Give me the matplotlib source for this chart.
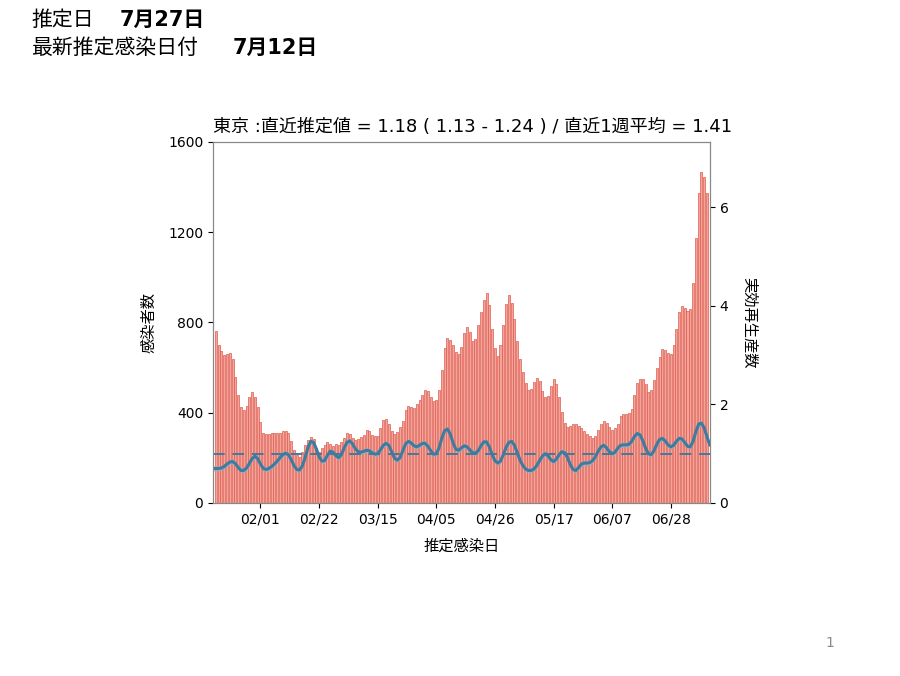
import numpy as np
import pandas as pd
from matplotlib import pyplot as plt
import matplotlib.dates as mdates

plt.rcParams['font.family'] = ['DejaVu Sans', 'Noto Sans CJK JP']

###################
# Data            #
###################
# Daily infections by estimated infection date (2021-01-16 .. 2021-07-11)
bar_start = '2021-01-16'
infections = [
    764, 700, 675, 656, 660, 665, 637, 560, 479, 424,
    412, 430, 471, 493, 468, 427, 360, 309, 304, 304,
    309, 309, 309, 312, 320, 320, 309, 276, 235, 213,
    205, 228, 257, 279, 294, 282, 242, 228, 245, 258,
    268, 262, 252, 262, 258, 272, 290, 310, 305, 288,
    280, 282, 292, 300, 322, 318, 300, 296, 298, 330,
    368, 372, 352, 318, 305, 315, 335, 362, 410, 428,
    425, 420, 440, 455, 478, 500, 498, 470, 452, 455,
    500, 590, 688, 732, 722, 700, 670, 662, 690, 752,
    781, 759, 718, 725, 790, 845, 900, 929, 877, 770,
    685, 652, 700, 790, 880, 920, 885, 815, 720, 640,
    580, 530, 502, 505, 535, 552, 540, 495, 468, 475,
    520, 548, 525, 471, 405, 355, 338, 342, 350, 348,
    340, 330, 320, 305, 295, 288, 298, 322, 352, 365,
    355, 338, 322, 330, 350, 385, 395, 395, 400, 416,
    480, 530, 548, 550, 527, 490, 500, 545, 600, 645,
    682, 678, 665, 660, 700, 770, 845, 875, 865, 850,
    860, 975, 1175, 1374, 1468, 1446, 1374,
]

# Effective reproduction number (2021-01-15 .. 2021-07-12)
r_start = '2021-01-15'
r_values = [
    0.70, 0.70, 0.70, 0.71, 0.74, 0.79, 0.83, 0.84, 0.80, 0.72,
    0.66, 0.66, 0.71, 0.80, 0.90, 0.95, 0.90, 0.79, 0.70, 0.68,
    0.70, 0.74, 0.79, 0.85, 0.92, 0.98, 1.01, 0.98, 0.88, 0.76,
    0.68, 0.67, 0.75, 0.92, 1.12, 1.25, 1.23, 1.10, 0.94, 0.85,
    0.86, 0.97, 1.05, 1.03, 0.96, 0.92, 0.98, 1.12, 1.23, 1.26,
    1.20, 1.10, 1.04, 1.03, 1.05, 1.07, 1.06, 1.02, 0.99, 1.00,
    1.08, 1.17, 1.21, 1.17, 1.04, 0.91, 0.87, 0.92, 1.06, 1.20,
    1.25, 1.22, 1.16, 1.14, 1.17, 1.21, 1.21, 1.15, 1.06, 0.99,
    1.00, 1.12, 1.32, 1.47, 1.50, 1.40, 1.22, 1.09, 1.07, 1.12,
    1.16, 1.14, 1.08, 1.02, 1.01, 1.06, 1.16, 1.24, 1.24, 1.14,
    0.98, 0.86, 0.81, 0.85, 0.98, 1.13, 1.23, 1.25, 1.17, 1.02,
    0.87, 0.76, 0.69, 0.66, 0.66, 0.69, 0.76, 0.86, 0.95, 1.00,
    0.96, 0.88, 0.84, 0.89, 0.98, 1.04, 1.02, 0.92, 0.78, 0.68,
    0.66, 0.72, 0.79, 0.81, 0.81, 0.82, 0.86, 0.94, 1.05, 1.14,
    1.17, 1.12, 1.04, 1.00, 1.03, 1.11, 1.17, 1.18, 1.18, 1.19,
    1.25, 1.35, 1.41, 1.38, 1.26, 1.11, 1.00, 0.98, 1.06, 1.19,
    1.29, 1.31, 1.26, 1.18, 1.14, 1.17, 1.25, 1.31, 1.30, 1.23,
    1.15, 1.14, 1.25, 1.45, 1.60, 1.62, 1.52, 1.34, 1.18,
]
# Half width of the credible interval
r_ci = [
    0.05, 0.05, 0.05, 0.05, 0.05, 0.05, 0.05, 0.05, 0.05, 0.05,
    0.05, 0.05, 0.05, 0.05, 0.05, 0.05, 0.05, 0.05, 0.05, 0.05,
    0.05, 0.05, 0.05, 0.05, 0.05, 0.05, 0.05, 0.05, 0.05, 0.05,
    0.05, 0.05, 0.05, 0.05, 0.05, 0.05, 0.05, 0.05, 0.05, 0.05,
    0.05, 0.05, 0.05, 0.05, 0.05, 0.05, 0.05, 0.05, 0.05, 0.05,
    0.05, 0.05, 0.05, 0.05, 0.05, 0.05, 0.05, 0.05, 0.05, 0.05,
    0.05, 0.05, 0.05, 0.05, 0.05, 0.05, 0.05, 0.05, 0.05, 0.05,
    0.05, 0.05, 0.05, 0.05, 0.05, 0.05, 0.05, 0.05, 0.05, 0.05,
    0.05, 0.05, 0.05, 0.05, 0.05, 0.05, 0.05, 0.05, 0.05, 0.05,
    0.05, 0.05, 0.05, 0.05, 0.05, 0.05, 0.05, 0.05, 0.05, 0.05,
    0.05, 0.05, 0.05, 0.05, 0.05, 0.05, 0.05, 0.05, 0.05, 0.05,
    0.05, 0.05, 0.05, 0.05, 0.05, 0.05, 0.05, 0.05, 0.05, 0.05,
    0.05, 0.05, 0.05, 0.05, 0.05, 0.05, 0.05, 0.05, 0.05, 0.05,
    0.05, 0.05, 0.05, 0.05, 0.05, 0.05, 0.05, 0.05, 0.05, 0.05,
    0.05, 0.05, 0.05, 0.05, 0.05, 0.05, 0.05, 0.05, 0.05, 0.05,
    0.05, 0.05, 0.05, 0.05, 0.05, 0.05, 0.05, 0.05, 0.05, 0.05,
    0.05, 0.05, 0.05, 0.05, 0.05, 0.05, 0.05, 0.05, 0.05, 0.05,
    0.05, 0.05, 0.05, 0.05, 0.06, 0.06, 0.06, 0.06, 0.055,
]

# x tick dates
tick_dates = ['2021-02-01', '2021-02-22', '2021-03-15', '2021-04-05',
              '2021-04-26', '2021-05-17', '2021-06-07', '2021-06-28']

# Texts
header_labels = ['推定日', '最新推定感染日付']
header_dates = ['7月27日', '7月12日']
plot_title = '東京 :直近推定値 = 1.18 ( 1.13 - 1.24 ) / 直近1週平均 = 1.41'
x_label = '推定感染日'
y_label_left = '感染者数'
y_label_right = '実効再生産数'
page_number = '1'

bar_color = '#f3a59b'
bar_edge = '#e05a4e'
line_color = '#3f7b9e'
band_color = '#8fb1c8'


if __name__ == '__main__':

    bar_dates = pd.date_range(bar_start, periods=len(infections))
    r_dates = pd.date_range(r_start, periods=len(r_values))
    r_arr = np.array(r_values)
    ci = np.array(r_ci)

    # Define the figure
    fig = plt.figure(figsize=(9, 6.76), dpi=100)
    ax = fig.add_axes([0.2367, 0.256, 0.552, 0.534])
    ax2 = ax.twinx()

    # Infections bars
    ax.bar(bar_dates, infections, width=0.72, color=bar_color,
           edgecolor=bar_edge, linewidth=0.5)
    ax.set_ylim(0, 1600)
    ax.set_yticks([0, 400, 800, 1200, 1600])
    ax.set_xlim(r_dates[0], r_dates[-1])

    # Reproduction number
    ax2.fill_between(r_dates, r_arr - ci, r_arr + ci, color=band_color,
                     alpha=0.8, linewidth=0)
    ax2.plot(r_dates, r_arr, color=line_color, linewidth=2.2)
    ax2.axhline(1.0, color=line_color, linestyle=(0, (6, 4)), linewidth=1.4)
    ax2.set_ylim(0, 7.33)
    ax2.set_yticks([0, 2, 4, 6])
    ax2.set_xlim(r_dates[0], r_dates[-1])

    # Ticks and labels
    ax.set_xticks(pd.to_datetime(tick_dates))
    ax.xaxis.set_major_formatter(mdates.DateFormatter('%m/%d'))
    for a in (ax, ax2):
        a.tick_params(labelsize=10)
        for s in a.spines.values():
            s.set_color('#888888')
    ax.set_xlabel(x_label, fontsize=11, labelpad=9)
    ax.set_ylabel(y_label_left, fontsize=11, labelpad=8)
    ax2.set_ylabel(y_label_right, fontsize=11, rotation=270, labelpad=20)
    ax.set_title(plot_title, fontsize=13, loc='left', pad=7)

    # Slide header
    fig.text(0.035, 0.970, header_labels[0], fontsize=15, va='center')
    fig.text(0.133, 0.970, header_dates[0], fontsize=15, va='center',
             fontweight='bold')
    fig.text(0.035, 0.929, header_labels[1], fontsize=15, va='center')
    fig.text(0.258, 0.929, header_dates[1], fontsize=15, va='center',
             fontweight='bold')
    fig.text(0.917, 0.049, page_number, fontsize=10, color='#888888',
             va='center')

    # Save plot as image
    fig.savefig('out.png', dpi=100)
